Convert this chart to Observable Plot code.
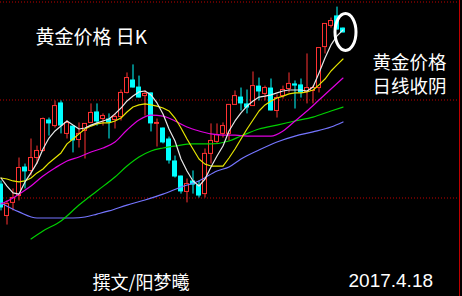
<!DOCTYPE html>
<html><head><meta charset="utf-8">
<script src="https://cdn.jsdelivr.net/npm/d3@7"></script>
<script src="https://cdn.jsdelivr.net/npm/@observablehq/plot@0.6"></script>
<style>html,body{margin:0;padding:0;background:#000;overflow:hidden}</style>
</head><body><div id="chart"></div>
<script>
// Daily gold candles (price units), last candle = 2017.4.18
const opens  = [1207.1,1190.8,1197.5,1201.0,1215.8,1213.8,1220.4,1224.0,1239.8,1236.7,
                1248.5,1232.7,1236.7,1229.6,1234.2,1238.3,1243.9,1240.3,1240.3,1239.8,
                1241.3,1253.6,1260.2,1256.6,1252.0,1253.6,1237.8,1235.7,1230.1,1218.9,
                1211.2,1203.1,1208.7,1206.6,1202.0,1222.5,1228.6,1232.7,1232.7,1247.5,
                1251.5,1248.0,1246.9,1257.1,1253.1,1256.1,1244.4,1252.0,1255.6,1258.2,
                1257.7,1254.1,1254.6,1256.1,1277.0,1287.8,1292.9,1286.7];
const closes = [1194.9,1196.9,1200.0,1215.3,1213.3,1220.4,1224.0,1240.3,1237.8,1246.9,
                1236.7,1238.3,1229.1,1232.7,1237.8,1243.4,1238.8,1241.8,1238.3,1241.3,
                1253.6,1261.2,1256.1,1251.0,1253.1,1237.8,1238.3,1228.1,1218.9,1210.7,
                1203.1,1207.1,1206.6,1201.0,1222.5,1229.1,1232.1,1236.7,1247.5,1252.0,
                1248.0,1245.9,1257.1,1254.1,1256.1,1244.4,1251.0,1255.1,1258.2,1257.1,
                1253.6,1256.1,1256.1,1276.5,1288.8,1290.3,1285.7,1284.2];
const highs  = [1208.7,1198.5,1204.6,1220.4,1217.3,1230.1,1226.5,1240.8,1240.8,1249.5,
                1249.5,1239.3,1236.7,1238.3,1237.8,1248.0,1248.0,1242.9,1242.9,1242.9,
                1255.1,1263.8,1267.9,1262.2,1254.6,1253.6,1240.3,1235.7,1231.1,1221.4,
                1211.2,1209.7,1213.8,1208.7,1225.0,1237.8,1237.8,1238.3,1247.5,1254.6,
                1256.1,1255.1,1264.3,1261.2,1257.1,1260.7,1252.6,1257.1,1263.8,1259.7,
                1260.7,1273.5,1257.1,1276.5,1288.8,1291.8,1297.4,1286.7];
const lows   = [1193.4,1186.2,1193.4,1198.5,1204.6,1211.2,1217.3,1223.5,1231.6,1235.7,
                1232.7,1230.1,1223.0,1225.5,1219.9,1238.3,1236.7,1236.7,1230.1,1235.2,
                1239.3,1253.1,1256.1,1251.0,1241.8,1233.7,1226.0,1227.6,1217.3,1210.2,
                1202.0,1197.5,1202.0,1200.0,1200.0,1217.3,1227.6,1230.6,1229.1,1247.5,
                1244.4,1242.9,1246.9,1249.5,1249.5,1244.4,1240.8,1250.5,1253.6,1245.4,
                1251.0,1248.0,1248.0,1253.6,1273.5,1286.7,1285.7,1284.2];

// Moving averages
const ma5  = [1210.2,1206.1,1202.6,1202.0,1208.2,1212.8,1217.9,1225.0,1230.6,1234.2,
              1236.7,1239.3,1237.2,1235.2,1235.7,1237.2,1238.3,1239.3,1240.3,1242.9,
              1245.9,1249.5,1252.0,1254.1,1254.6,1252.6,1248.5,1242.9,1235.2,1229.1,
              1219.9,1213.8,1208.7,1206.1,1209.7,1215.8,1221.4,1226.5,1234.2,1239.3,
              1243.4,1246.9,1249.5,1251.5,1252.0,1252.6,1253.6,1254.6,1255.1,1255.1,
              1255.1,1254.6,1256.6,1263.8,1271.4,1278.1,1282.7,1285.7];
const ma10 = [1210.2,1209.7,1208.7,1208.2,1208.7,1210.2,1212.8,1214.8,1217.9,1220.4,
              1223.0,1227.6,1230.1,1232.7,1235.2,1236.7,1237.8,1238.3,1238.3,1239.3,
              1240.8,1243.9,1246.4,1247.5,1248.0,1247.5,1246.9,1245.9,1244.4,1240.8,
              1235.7,1230.1,1225.0,1219.9,1217.3,1216.3,1216.3,1216.3,1220.4,1225.0,
              1230.1,1235.2,1239.8,1244.4,1247.5,1249.5,1251.0,1252.0,1253.1,1253.6,
              1253.6,1254.1,1255.1,1257.7,1260.7,1264.8,1267.9,1270.9];
const ma20Day = [0,2,3,5,7,9,11,13,15,17,19,21,23,25,27,29,31,33,35,37,39,41,43,45,47,49,51,53,55,57];
const ma20    = [1196.9,1200.0,1202.0,1206.1,1211.2,1215.3,1218.9,1220.9,1223.5,1225.5,
                 1228.6,1234.7,1239.8,1242.3,1241.8,1239.3,1236.2,1234.2,1232.7,1232.1,
                 1232.1,1231.6,1231.6,1231.6,1234.2,1239.3,1244.4,1250.0,1255.6,1261.2];
const ma40Day = [5,7,10,13,16,19,21,23,25,27,29,32,35,38,40,43,46,49,52,55,57];
const ma40    = [1179.1,1183.2,1188.3,1196.4,1203.6,1210.7,1216.3,1220.9,1224.0,1225.5,
                 1226.5,1227.6,1227.6,1229.1,1231.6,1235.2,1237.2,1239.3,1241.3,1244.4,1246.4];
const ma60Day = [0,3,6,9,12,14,16,18,21,24,27,30,33,36,38,40,43,46,49,52,55,57];
const ma60    = [1197.5,1192.9,1189.8,1189.8,1189.8,1190.3,1191.8,1193.4,1196.4,1199.0,
                 1202.0,1205.6,1208.7,1213.8,1215.8,1219.9,1224.5,1228.6,1231.6,1233.7,1236.2,1238.8];

const gridLevels = [1200, 1250, 1300];
const titleText = "黄金价格 日K";
const noteText = "黄金价格\n日线收阴";
const authorText = "撰文/阳梦曦";
const dateText = "2017.4.18";

const RED = "#ff3232", CYAN = "#00ffff";
const days = d3.range(opens.length);
const candles = days.map(i => ({i, o: opens[i], c: closes[i], h: highs[i], l: lows[i], up: closes[i] >= opens[i]}));
const upC = candles.filter(d => d.up), dnC = candles.filter(d => !d.up);
const line = (xs, ys) => xs.map((x, k) => ({x, y: ys[k]}));
const lastDay = days[days.length - 1];

const CJK = "'Noto Sans CJK SC', sans-serif";

function ellipseMark(index, scales) {
  const e = document.createElementNS("http://www.w3.org/2000/svg", "ellipse");
  const cx = scales.x(lastDay) + 3;
  const cy = scales.y((highs[lastDay] + lows[lastDay]) / 2) + 2;
  e.setAttribute("cx", cx); e.setAttribute("cy", cy);
  e.setAttribute("rx", 10.5); e.setAttribute("ry", 18.5);
  e.setAttribute("fill", "none"); e.setAttribute("stroke", "white"); e.setAttribute("stroke-width", 3);
  return e;
}

const chart = Plot.plot({
  width: 462, height: 296,
  marginLeft: 0, marginRight: 3, marginTop: 0, marginBottom: 0,
  style: {background: "#000", color: "#fff"},
  x: {domain: [0, 77], range: [0.5, 462.5], axis: null},
  y: {domain: [1200, 1300], range: [197.5, 1.5], axis: null},
  marks: [
    Plot.ruleY(gridLevels, {stroke: "#c00000", strokeDasharray: "1,2"}),
    Plot.frame({anchor: "right", stroke: "#c00000"}),
    // wicks
    Plot.ruleX(upC, {x: "i", y1: "l", y2: "h", stroke: RED}),
    Plot.ruleX(dnC, {x: "i", y1: "l", y2: "h", stroke: CYAN}),
    // bodies
    Plot.rect(upC, {x1: d => d.i - 2/6, x2: d => d.i + 2/6, y1: "o", y2: "c", fill: "#000", stroke: RED, strokeWidth: 1}),
    Plot.rect(dnC, {x1: d => d.i - 2.5/6, x2: d => d.i + 2.5/6, y1: "o", y2: "c", fill: CYAN}),
    // moving averages
    Plot.line(line(ma60Day, ma60), {x: "x", y: "y", stroke: "#7575ff", strokeWidth: 1.2, curve: "monotone-x"}),
    Plot.line(line(ma40Day, ma40), {x: "x", y: "y", stroke: "#00d000", strokeWidth: 1.2, curve: "monotone-x"}),
    Plot.line(line(ma20Day, ma20), {x: "x", y: "y", stroke: "#e000e0", strokeWidth: 1.2, curve: "monotone-x"}),
    Plot.line(line(days, ma10), {x: "x", y: "y", stroke: "#e6e600", strokeWidth: 1.2}),
    Plot.line(line(days, ma5), {x: "x", y: "y", stroke: "#e8e8e8", strokeWidth: 1.2}),
    ellipseMark,
    // texts
    Plot.text([titleText], {frameAnchor: "top-left", dx: 35, dy: 37, textAnchor: "start", lineAnchor: "middle", fill: "#fff", fontSize: 19, fontFamily: CJK}),
    Plot.text([noteText], {frameAnchor: "top-left", dx: 372, dy: 73, textAnchor: "start", lineAnchor: "middle", lineHeight: 1.3, fill: "#fff", fontSize: 18.5, fontFamily: CJK}),
    Plot.text([authorText], {frameAnchor: "top-left", dx: 92, dy: 283, textAnchor: "start", lineAnchor: "middle", fill: "#fff", fontSize: 18, fontFamily: CJK}),
    Plot.text([dateText], {frameAnchor: "top-left", dx: 348, dy: 280, textAnchor: "start", lineAnchor: "middle", fill: "#fff", fontSize: 19, fontFamily: "'Liberation Sans', Arial, sans-serif"})
  ]
});
document.getElementById("chart").appendChild(chart);
</script>
</body></html>
